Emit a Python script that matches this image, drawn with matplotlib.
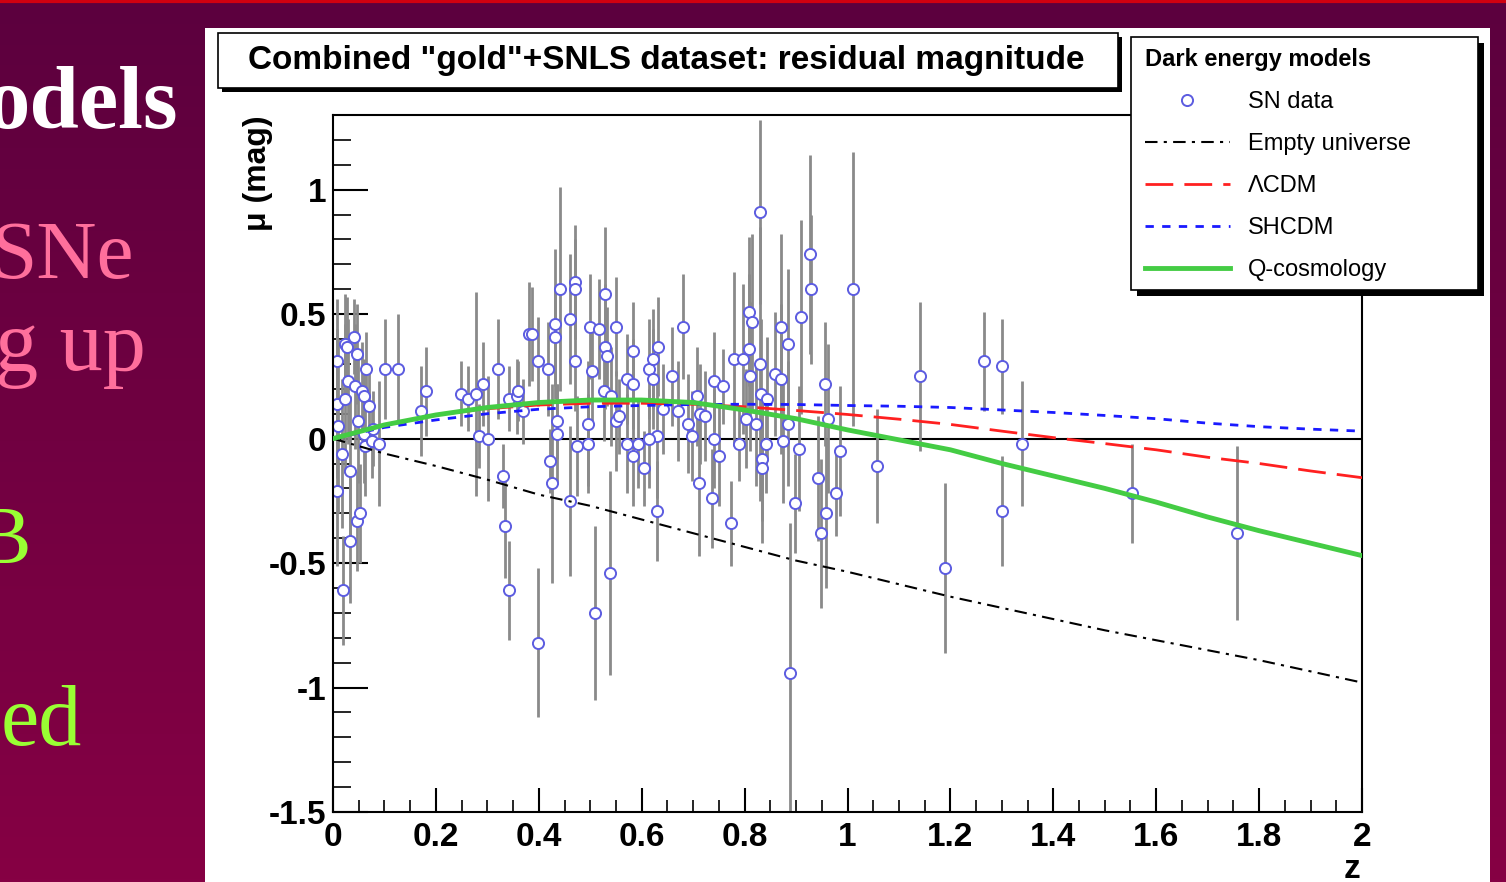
import numpy as np
import matplotlib.pyplot as plt
from matplotlib.patches import Rectangle
from matplotlib.colors import LinearSegmentedColormap
from matplotlib.ticker import MultipleLocator, FuncFormatter

plt.rcParams['font.family'] = ['Liberation Sans', 'DejaVu Sans']
plt.rcParams['axes.unicode_minus'] = False

# SN residual magnitudes: redshift, residual (mag), error
sn_z = [0.007, 0.007, 0.007, 0.01, 0.018, 0.019, 0.023, 0.024, 0.028, 0.03,
        0.034, 0.034, 0.041, 0.042, 0.046, 0.046, 0.048, 0.052, 0.056, 0.061,
        0.062, 0.06, 0.065, 0.07, 0.075, 0.078, 0.09, 0.101, 0.127, 0.172,
        0.181,
        0.248, 0.262, 0.277, 0.284, 0.292, 0.301, 0.32, 0.331, 0.334, 0.342,
        0.342, 0.357, 0.36, 0.37, 0.381, 0.387, 0.398, 0.398, 0.417, 0.422,
        0.425, 0.431, 0.431, 0.441, 0.435, 0.435,
        0.47, 0.47, 0.46, 0.46, 0.474, 0.47, 0.496, 0.496, 0.5, 0.504,
        0.51, 0.517, 0.529, 0.529, 0.532, 0.538, 0.527, 0.55, 0.551, 0.556,
        0.54, 0.571, 0.571, 0.583, 0.583, 0.583, 0.593, 0.605, 0.614, 0.621,
        0.622, 0.632, 0.629, 0.629, 0.615, 0.642, 0.658, 0.671, 0.68,
        0.69, 0.697, 0.707, 0.713, 0.723, 0.711, 0.736, 0.741, 0.741, 0.75,
        0.758, 0.773, 0.78, 0.79, 0.797, 0.803, 0.809, 0.814, 0.809, 0.81,
        0.823, 0.83, 0.83, 0.832, 0.833, 0.833, 0.842, 0.843, 0.86, 0.87,
        0.871, 0.875, 0.884, 0.884, 0.888, 0.898, 0.906, 0.909, 0.927, 0.93,
        0.942, 0.948, 0.956, 0.958, 0.963, 0.977, 0.985,
        1.01, 1.057, 1.14, 1.19, 1.265, 1.30, 1.30, 1.34, 1.553, 1.757]
sn_mu = [0.31, 0.14, -0.21, 0.05, -0.06, -0.61, 0.38, 0.16, 0.37, 0.23,
         -0.41, -0.13, 0.41, 0.21, 0.34, -0.33, 0.07, -0.30, 0.19, 0.17,
         -0.03, 0.02, 0.28, 0.13, -0.01, 0.04, -0.02, 0.28, 0.28, 0.11,
         0.19,
         0.18, 0.16, 0.18, 0.01, 0.22, 0.0, 0.28, -0.15, -0.35, -0.61,
         0.16, 0.17, 0.19, 0.11, 0.42, 0.42, 0.31, -0.82, 0.28, -0.09,
         -0.18, 0.46, 0.41, 0.60, 0.07, 0.02,
         0.63, 0.60, 0.48, -0.25, -0.03, 0.31, -0.02, 0.06, 0.45, 0.27,
         -0.70, 0.44, 0.58, 0.37, 0.33, -0.54, 0.19, 0.45, 0.07, 0.09,
         0.17, -0.02, 0.24, 0.35, 0.22, -0.07, -0.02, -0.12, 0.28, 0.32,
         0.24, 0.37, -0.29, 0.01, 0.0, 0.12, 0.25, 0.11, 0.45,
         0.06, 0.01, 0.17, 0.10, 0.09, -0.18, -0.24, 0.23, 0.0, -0.07,
         0.21, -0.34, 0.32, -0.02, 0.32, 0.08, 0.51, 0.47, 0.36, 0.25,
         0.06, 0.30, 0.91, 0.18, -0.08, -0.12, -0.02, 0.16, 0.26, 0.45,
         0.24, -0.01, 0.38, 0.06, -0.94, -0.26, -0.04, 0.49, 0.74, 0.60,
         -0.16, -0.38, 0.22, -0.30, 0.08, -0.22, -0.05,
         0.60, -0.11, 0.25, -0.52, 0.31, 0.29, -0.29, -0.02, -0.22, -0.38]
sn_err = [0.25, 0.3, 0.3, 0.35, 0.3, 0.22, 0.2, 0.3, 0.2, 0.25,
          0.25, 0.3, 0.15, 0.25, 0.2, 0.2, 0.25, 0.2, 0.2, 0.15,
          0.2, 0.2, 0.15, 0.15, 0.15, 0.15, 0.25, 0.2, 0.22, 0.18,
          0.18,
          0.13, 0.13, 0.41, 0.13, 0.17, 0.25, 0.2, 0.13, 0.21, 0.2,
          0.13, 0.15, 0.12, 0.13, 0.21, 0.19, 0.18, 0.3, 0.19, 0.13,
          0.4, 0.3, 0.2, 0.41, 0.15, 0.2,
          0.23, 0.2, 0.26, 0.3, 0.2, 0.2, 0.2, 0.25, 0.21, 0.2,
          0.35, 0.2, 0.27, 0.25, 0.2, 0.41, 0.2, 0.2, 0.2, 0.15,
          0.2, 0.2, 0.18, 0.2, 0.18, 0.2, 0.18, 0.15, 0.2, 0.2,
          0.2, 0.2, 0.2, 0.25, 0.2, 0.18, 0.2, 0.2, 0.21,
          0.2, 0.18, 0.2, 0.2, 0.18, 0.29, 0.2, 0.2, 0.2, 0.2,
          0.15, 0.17, 0.35, 0.15, 0.3, 0.2, 0.3, 0.35, 0.3, 0.3,
          0.25, 0.55, 0.37, 0.3, 0.25, 0.3, 0.2, 0.25, 0.25, 0.37,
          0.3, 0.25, 0.3, 0.25, 0.6, 0.2, 0.25, 0.39, 0.4, 0.3,
          0.25, 0.3, 0.25, 0.3, 0.3, 0.17, 0.26,
          0.55, 0.23, 0.3, 0.34, 0.2, 0.19, 0.22, 0.25, 0.2, 0.35]

# model curves
model_z = [0, 0.1, 0.2, 0.3, 0.4, 0.5, 0.6, 0.7, 0.8, 0.9, 1.0,
           1.1, 1.2, 1.3, 1.4, 1.5, 1.6, 1.7, 1.8, 1.9, 2.0]
empty_mu = [0, -0.06, -0.11, -0.165, -0.225, -0.27, -0.325, -0.38, -0.435, -0.49, -0.535,
            -0.585, -0.635, -0.68, -0.725, -0.77, -0.81, -0.85, -0.89, -0.935, -0.98]
lcdm_mu = [0, 0.055, 0.095, 0.12, 0.135, 0.142, 0.142, 0.138, 0.128, 0.113, 0.097,
           0.078, 0.057, 0.03, 0.004, -0.02, -0.045, -0.075, -0.1, -0.13, -0.157]
shcdm_mu = [0, 0.045, 0.075, 0.1, 0.118, 0.128, 0.133, 0.137, 0.138, 0.137, 0.133,
            0.13, 0.125, 0.115, 0.105, 0.093, 0.08, 0.062, 0.048, 0.038, 0.03]
qcos_mu = [0, 0.055, 0.095, 0.125, 0.145, 0.155, 0.155, 0.145, 0.115, 0.08, 0.035,
           -0.005, -0.045, -0.10, -0.15, -0.20, -0.255, -0.315, -0.37, -0.42, -0.47]

W, H = 1506, 882
fig = plt.figure(figsize=(W / 100, H / 100), dpi=100)


def fx(px):
    return px / W


def fy(py):
    return 1 - py / H


# slide background
bg = fig.add_axes([0, 0, 1, 1], zorder=-10)
cmap = LinearSegmentedColormap.from_list('slide', ['#5c003e', '#860044'])
bg.imshow(np.linspace(0, 1, 256).reshape(-1, 1), cmap=cmap, aspect='auto',
          extent=[0, 1, 0, 1])
bg.axhline(0.999, color='#d00010', lw=3)
bg.set_xlim(0, 1)
bg.set_ylim(0, 1)
bg.axis('off')

fig.patches.append(Rectangle((fx(205), 0), fx(1490) - fx(205), fy(28),
                             transform=fig.transFigure, facecolor='white',
                             edgecolor='none', zorder=-5))

# slide text cut at the left edge
serif = ['Liberation Serif', 'DejaVu Serif']
fig.text(fx(178), fy(128), 'odels', ha='right', va='baseline', color='white',
         fontsize=64, fontweight='bold', family=serif)
fig.text(fx(134), fy(278), 'SNe', ha='right', va='baseline', color='#ff6f9c',
         fontsize=60, family=serif)
fig.text(fx(146), fy(370), 'g up', ha='right', va='baseline', color='#ff6f9c',
         fontsize=62, family=serif)
fig.text(fx(31), fy(563), 'B', ha='right', va='baseline', color='#99ff33',
         fontsize=60, family=serif)
fig.text(fx(82), fy(745), 'ed', ha='right', va='baseline', color='#99ff33',
         fontsize=62, family=serif)

# main plot
ax = fig.add_axes([fx(333), fy(812), fx(1362) - fx(333), fy(115) - fy(812)])
ax.set_xlim(0, 2)
ax.set_ylim(-1.5, 1.3)

ax.axhline(0, color='black', lw=1.5, zorder=1)
eb = ax.errorbar(sn_z, sn_mu, yerr=sn_err, fmt='o', ms=8, mfc='white',
                 mec='#5c5ce0', mew=1.4, ecolor='#8a8a8a', elinewidth=2,
                 capsize=0, zorder=2)
l_empty, = ax.plot(model_z, empty_mu, color='black', lw=1.5,
                   dashes=(6, 3, 1.5, 3), zorder=3)
l_lcdm, = ax.plot(model_z, lcdm_mu, color='#ff2020', lw=2, dashes=(10, 4), zorder=3)
l_sh, = ax.plot(model_z, shcdm_mu, color='#1a1aff', lw=2, dashes=(3, 3), zorder=3)
l_q, = ax.plot(model_z, qcos_mu, color='#44cc44', lw=3.5, zorder=4)

ax.xaxis.set_major_locator(MultipleLocator(0.2))
ax.xaxis.set_minor_locator(MultipleLocator(0.05))
ax.yaxis.set_major_locator(MultipleLocator(0.5))
ax.yaxis.set_minor_locator(MultipleLocator(0.1))
fmt = FuncFormatter(lambda v, p: f'{v:g}')
ax.xaxis.set_major_formatter(fmt)
ax.yaxis.set_major_formatter(fmt)
ax.tick_params(axis='x', which='major', direction='in', length=17, width=1.5,
               labelsize=24, pad=7)
ax.tick_params(axis='x', which='minor', direction='in', length=8.5, width=1.2)
ax.tick_params(axis='y', which='major', direction='in', length=25, width=1.5,
               labelsize=24, pad=5)
ax.tick_params(axis='y', which='minor', direction='in', length=13, width=1.2)
for lab in ax.get_xticklabels() + ax.get_yticklabels():
    lab.set_fontweight('bold')
for sp in ax.spines.values():
    sp.set_linewidth(1.5)

fig.text(fx(1352), fy(870), 'z', ha='center', va='center', fontsize=24,
         fontweight='bold')
fig.text(fx(258), fy(115), 'μ (mag)', ha='center', va='top', rotation=90,
         fontsize=23, fontweight='bold')

# title box with shadow
fig.patches.append(Rectangle((fx(222), fy(92)), fx(1122) - fx(222), fy(37) - fy(92),
                             transform=fig.transFigure, facecolor='black', zorder=5))
fig.patches.append(Rectangle((fx(218), fy(88)), fx(1118) - fx(218), fy(33) - fy(88),
                             transform=fig.transFigure, facecolor='white',
                             edgecolor='black', lw=1.2, zorder=6))
fig.text(fx(666), fy(61), 'Combined "gold"+SNLS dataset: residual magnitude',
         ha='center', va='center', fontsize=24, fontweight='bold', zorder=7)

# legend box with shadow
fig.patches.append(Rectangle((fx(1137), fy(296)), fx(1484) - fx(1137), fy(43) - fy(296),
                             transform=fig.transFigure, facecolor='black', zorder=5))
fig.patches.append(Rectangle((fx(1131), fy(290)), fx(1478) - fx(1131), fy(37) - fy(290),
                             transform=fig.transFigure, facecolor='white',
                             edgecolor='black', lw=1.2, zorder=6))
leg = fig.legend([eb[0], l_empty, l_lcdm, l_sh, l_q],
                 ['SN data', 'Empty universe', 'ΛCDM', 'SHCDM', 'Q-cosmology'],
                 loc='upper left', bbox_to_anchor=(fx(1126), fy(29)),
                 frameon=False, fontsize=17, title='Dark energy models',
                 title_fontproperties={'weight': 'bold', 'size': 17},
                 alignment='left', handlelength=3.6, handletextpad=0.75,
                 labelspacing=0.85, borderpad=0.3)
leg.set_zorder(7)

fig.savefig('out.png', dpi=100)
